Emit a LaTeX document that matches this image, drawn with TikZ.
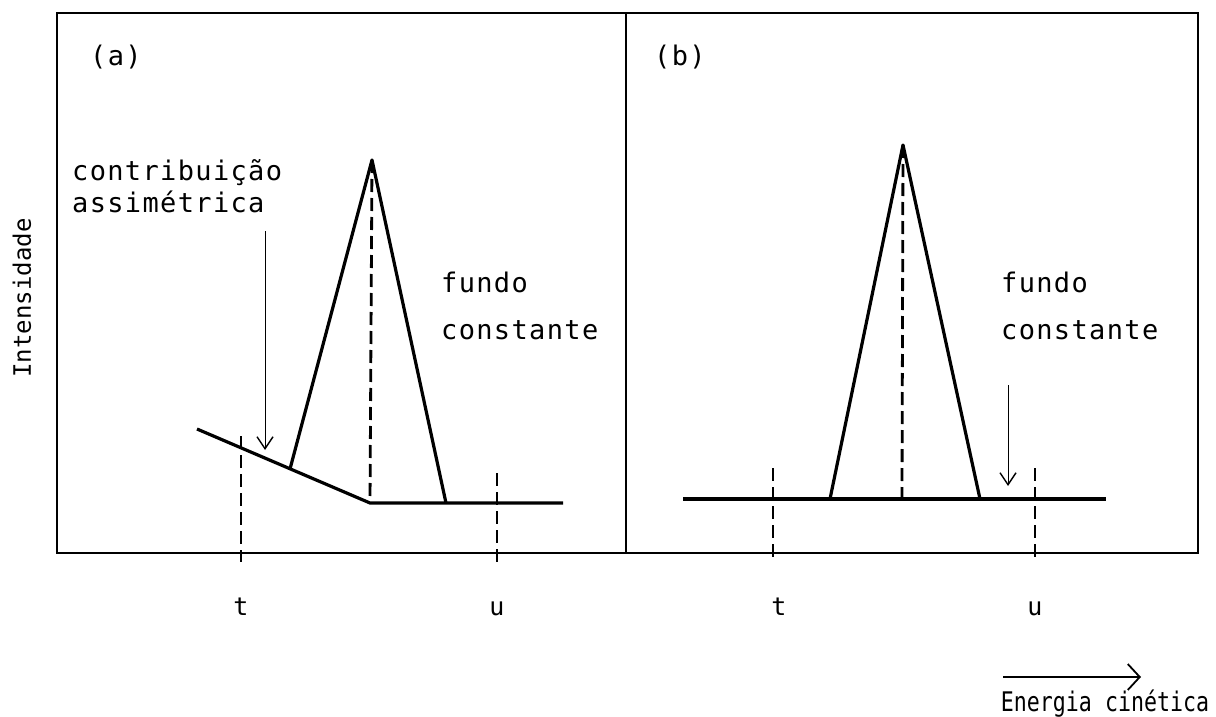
\documentclass[tikz,border=0pt]{standalone}
\usepackage{fontspec}
\newfontfamily\plotfont[LetterSpace=5]{DejaVu Sans Mono}
\newfontfamily\axisfont{DejaVu Sans Mono}
\newfontfamily\narrowfont[FakeStretch=0.8]{DejaVu Sans Mono}
\usetikzlibrary{arrows.meta, positioning}

\begin{document}
\begin{tikzpicture}[
    x=1pt, y=-1pt,
    frame/.style={line width=2.8pt, line cap=rect},
    curve/.style={line width=3.2pt, line join=round},
    guide/.style={line width=2.8pt, dash pattern=on 13pt off 6pt},
    pointer/.style={-{Straight Barb[length=12pt, width=16pt, line width=1.4pt]}, line width=1pt},
    axisarrow/.style={-{Straight Barb[length=12pt, width=26pt, line width=1.8pt]}, line width=1.8pt},
    plotlabel/.style={font=\plotfont\fontsize{27}{32}\selectfont, inner sep=0pt, anchor=base west},
    ticklabel/.style={font=\axisfont\fontsize{25}{30}\selectfont, inner sep=0pt, anchor=base},
    axislabel/.style={font=\axisfont\fontsize{24}{28}\selectfont, inner sep=0pt},
    energylabel/.style={font=\narrowfont\fontsize{27}{32}\selectfont, inner sep=0pt}
]
    \useasboundingbox (0,0) rectangle (1216,717);

    % --- FRAME ---
    \draw [frame] (57,13) rectangle (1198,553);
    \draw [frame] (626,13) -- (626,553);

    % --- PANEL (a) ---
    \coordinate (a_start) at (197,429);
    \coordinate (a_lfoot) at (290,469);
    \coordinate (a_peak)  at (372,160);
    \coordinate (a_knee)  at (370,503);
    \coordinate (a_rfoot) at (446,503);
    \coordinate (a_end)   at (563,503);
    \coordinate (a_ttop)  at (241,436);
    \coordinate (a_tbot)  at (241,562);
    \coordinate (a_utop)  at (497,473);
    \coordinate (a_ubot)  at (497,562);

    \draw [curve] (a_start) -- (a_knee) -- (a_end);
    \draw [curve] (a_lfoot) -- (a_peak) -- (a_rfoot);
    \draw [guide] (a_peak) -- (a_knee);
    \draw [guide] (a_ttop) -- (a_tbot);
    \draw [guide] (a_utop) -- (a_ubot);

    \node [plotlabel] (a_tag) at (90,66) {(a)};
    \node [plotlabel] (a_asym1) at (72,180) {contribuição};
    \node [plotlabel] (a_asym2) at (72,212) {assimétrica};
    \node [plotlabel] (a_bg1) at (441,292) {fundo};
    \node [plotlabel] (a_bg2) at (441,339) {constante};

    \coordinate (a_tail) at (265,231);
    \coordinate (a_tip)  at (265,450);
    \draw [pointer] (a_tail) -- (a_tip);

    % --- PANEL (b) ---
    \coordinate (b_start) at (683,499);
    \coordinate (b_lfoot) at (830,499);
    \coordinate (b_peak)  at (903,145);
    \coordinate (b_mid)   at (902,499);
    \coordinate (b_rfoot) at (980,499);
    \coordinate (b_end)   at (1106,499);
    \coordinate (b_ttop)  at (773,468);
    \coordinate (b_tbot)  at (773,562);
    \coordinate (b_utop)  at (1035,468);
    \coordinate (b_ubot)  at (1035,562);

    \draw [curve] (b_start) -- (b_end);
    \draw [curve] (b_lfoot) -- (b_peak) -- (b_rfoot);
    \draw [guide] (b_peak) -- (b_mid);
    \draw [guide] (b_ttop) -- (b_tbot);
    \draw [guide] (b_utop) -- (b_ubot);

    \node [plotlabel] (b_tag) at (654,66) {(b)};
    \node [plotlabel] (b_bg1) at (1001,292) {fundo};
    \node [plotlabel] (b_bg2) at (1001,339) {constante};

    \coordinate (b_tail) at (1008,385);
    \coordinate (b_tip)  at (1008,486);
    \draw [pointer] (b_tail) -- (b_tip);

    % --- AXES ---
    \node [ticklabel] (a_t) at (241,615) {t};
    \node [ticklabel] (a_u) at (497,615) {u};
    \node [ticklabel] (b_t) at (779,615) {t};
    \node [ticklabel] (b_u) at (1035,615) {u};

    \node [axislabel, rotate=90] (ylab) at (22,298) {Intensidade};

    \coordinate (x_tail) at (1003,677);
    \coordinate (x_tip)  at (1141,677);
    \draw [axisarrow] (x_tail) -- (x_tip);
    \node [energylabel] (xlab) at (1105,704) {Energia cinética};

\end{tikzpicture}
\end{document}
